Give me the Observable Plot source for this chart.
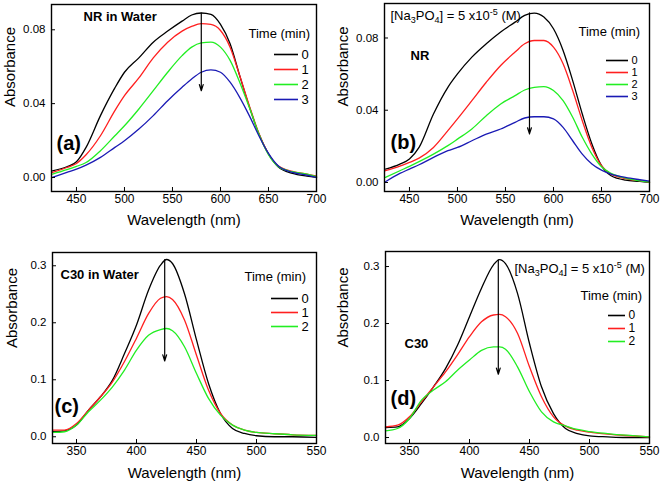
<!DOCTYPE html>
<html><head><meta charset="utf-8">
<script src="https://cdn.jsdelivr.net/npm/d3@7"></script>
<script src="https://cdn.jsdelivr.net/npm/@observablehq/plot@0.6"></script>
<style>
body{margin:0;background:#fff;font-family:"Liberation Sans",Arial,sans-serif}
#root{position:relative;width:661px;height:486px;overflow:hidden}
#root svg{position:absolute;max-width:none}
</style></head><body><div id="root"></div>
<script>
// ---------- data ----------
const times = ["0", "1", "2", "3"];
const nrWavelength = [425,440,450,460,475,490,500,515,530,545,560,570,580,590,600,610,620,630,640,650,660,675,690,700];
const nrWater0 = [0.0036,0.0058,0.0085,0.0163,0.0335,0.0485,0.0570,0.0648,0.0733,0.0793,0.0847,0.0880,0.0891,0.0883,0.0829,0.0724,0.0552,0.0384,0.0235,0.0127,0.0058,0.0022,0.0007,0.0000];
const nrWater1 = [0.0027,0.0054,0.0076,0.0123,0.0226,0.0362,0.0443,0.0539,0.0648,0.0733,0.0793,0.0818,0.0833,0.0829,0.0796,0.0706,0.0552,0.0389,0.0239,0.0127,0.0063,0.0033,0.0018,0.0007];
const nrWater2 = [0.0018,0.0042,0.0060,0.0081,0.0145,0.0226,0.0280,0.0371,0.0470,0.0570,0.0660,0.0706,0.0729,0.0733,0.0706,0.0634,0.0516,0.0380,0.0235,0.0123,0.0060,0.0031,0.0018,0.0005];
const nrWater3 = [0.0000,0.0027,0.0045,0.0067,0.0109,0.0163,0.0199,0.0262,0.0335,0.0416,0.0489,0.0534,0.0570,0.0583,0.0570,0.0516,0.0434,0.0335,0.0226,0.0130,0.0063,0.0027,0.0013,0.0000];
const nrPhos0 = [0.0074,0.0102,0.0130,0.0194,0.0379,0.0527,0.0601,0.0694,0.0768,0.0833,0.0888,0.0925,0.0938,0.0916,0.0851,0.0731,0.0564,0.0379,0.0213,0.0093,0.0037,0.0013,0.0006,0.0000];
const nrPhos1 = [0.0065,0.0090,0.0111,0.0135,0.0194,0.0287,0.0352,0.0453,0.0555,0.0648,0.0722,0.0768,0.0786,0.0786,0.0749,0.0657,0.0509,0.0342,0.0194,0.0093,0.0046,0.0022,0.0009,0.0002];
const nrPhos2 = [0.0028,0.0065,0.0089,0.0115,0.0157,0.0204,0.0240,0.0296,0.0370,0.0435,0.0481,0.0512,0.0527,0.0531,0.0509,0.0453,0.0361,0.0250,0.0157,0.0087,0.0050,0.0024,0.0009,0.0002];
const nrPhos3 = [0.0004,0.0050,0.0074,0.0098,0.0139,0.0176,0.0194,0.0231,0.0268,0.0296,0.0333,0.0357,0.0364,0.0364,0.0352,0.0305,0.0231,0.0157,0.0102,0.0068,0.0046,0.0028,0.0015,0.0007];

const c30Wavelength = [330,340,350,360,370,380,390,400,410,420,425,430,440,450,460,470,480,490,500,515,530,550];
const c30Water0 = [0.0088,0.0105,0.0205,0.0468,0.0702,0.0994,0.146,0.196,0.257,0.301,0.311,0.304,0.251,0.170,0.0936,0.0409,0.0146,0.0058,0.0018,0.0,0.0,-0.001];
const c30Water1 = [0.0117,0.0117,0.0234,0.0468,0.0702,0.0965,0.132,0.173,0.216,0.243,0.246,0.241,0.205,0.143,0.0819,0.0409,0.0205,0.0117,0.0076,0.0053,0.0035,0.0023];
const c30Water2 = [0.0076,0.0088,0.0205,0.0439,0.0643,0.0877,0.117,0.152,0.178,0.188,0.190,0.186,0.158,0.111,0.0673,0.038,0.0205,0.0117,0.0076,0.0053,0.0035,0.0023];
const c30Phos0 = [0.0176,0.0187,0.0334,0.0598,0.089,0.121,0.162,0.212,0.262,0.303,0.312,0.305,0.253,0.165,0.089,0.042,0.0158,0.007,0.003,0.0012,0,0];
const c30Phos1 = [0.0187,0.0217,0.0363,0.0627,0.089,0.115,0.145,0.177,0.203,0.215,0.216,0.212,0.183,0.124,0.0715,0.0363,0.0199,0.0129,0.0094,0.0059,0.0035,0.0012];
const c30Phos2 = [0.0117,0.0158,0.0334,0.0656,0.0832,0.0978,0.118,0.136,0.153,0.159,0.159,0.155,0.124,0.0803,0.0451,0.0275,0.0205,0.0141,0.0105,0.007,0.0041,0.0012];

// arrows: [wavelength, from absorbance, to absorbance]
const arrowA = [580, 0.0891, 0.047];
const arrowB = [575, 0.0939, 0.0269];
const arrowC = [423.5, 0.311, 0.133];
const arrowD = [424, 0.3116, 0.111];

const nrTicksX = [450, 500, 550, 600, 650, 700];
const nrTicksY = [0, 0.04, 0.08];
const c30TicksX = [350, 400, 450, 500, 550];
const c30TicksY = [0, 0.1, 0.2, 0.3];

const xLabel = "Wavelength (nm)";
const yLabel = "Absorbance";
const legendTitle = "Time (min)";
const saltLabel = "[Na3PO4] = 5 x10-5 (M)";

// ---------- styles ----------
const colors = ["#000000", "#ff1f1f", "#22ee22", "#1a1ab4"];
const FONT = "'Liberation Sans', Arial, sans-serif";

function rows(wl, series) {
  return series.flatMap((vals, i) => wl.map((w, j) => ({wl: w, a: vals[j], t: times[i]})));
}

function panel(cfg) {
  const data = rows(cfg.wl, cfg.series);
  const n = cfg.series.length;
  const arrow = [{x: cfg.arrow[0], y1: cfg.arrow[1], y2: cfg.arrow[2]}];
  const marks = [
    Plot.line(data, {x: "wl", y: "a", z: "t", stroke: "t", strokeWidth: 1.3, curve: "monotone-x"}),
    Plot.arrow(arrow, {x1: "x", y1: "y1", x2: "x", y2: "y2", stroke: "black", strokeWidth: 1.2, headLength: 8, headAngle: 35}),
    Plot.axisX({ticks: cfg.xTicks, tickSize: -4, tickPadding: 7, fontSize: 12, label: null, tickFormat: d3.format("d")}),
    Plot.axisY({ticks: cfg.yTicks, tickSize: -4, tickPadding: 10, fontSize: 11.5, label: null, tickFormat: d3.format(cfg.yFmt)}),
    Plot.frame({stroke: "black", strokeWidth: 1.4}),
    Plot.text([xLabel], {frameAnchor: "bottom", dy: cfg.xLabelDy, fontSize: 15, lineAnchor: "middle"}),
    Plot.text([yLabel], {frameAnchor: "left", dx: cfg.yLabelDx, dy: cfg.yLabelDy, rotate: -90, fontSize: 15, lineAnchor: "middle"}),
    ...cfg.texts.map(t => Plot.text([t.text], {frameAnchor: "top-left", dx: t.dx, dy: t.dy, textAnchor: "start", lineAnchor: "middle", fontSize: t.size, fontWeight: t.bold ? "bold" : "normal"}))
  ];
  const svg = Plot.plot({
    width: cfg.width, height: cfg.height,
    marginLeft: cfg.m[0], marginRight: cfg.m[1], marginTop: cfg.m[2], marginBottom: cfg.m[3],
    x: {domain: cfg.xDomain},
    y: {domain: cfg.yDomain},
    color: {domain: times.slice(0, n), range: colors.slice(0, n)},
    style: {fontFamily: FONT, color: "black", background: "transparent", overflow: "visible"},
    marks
  });
  svg.style.left = cfg.left + "px";
  svg.style.top = cfg.top + "px";
  fixSalt(svg);
  return svg;
}

function fixSalt(svg) {
  svg.querySelectorAll("text").forEach(t => {
    if (t.textContent === saltLabel) {
      t.textContent = "";
      const parts = [["[Na", 0, null], ["3", 3, 9], ["PO", -3, null], ["4", 3, 9], ["] = 5 x10", -3, null], ["-5", -5, 9], [" (M)", 5, null]];
      for (const [s, dy, fs] of parts) {
        const ts = document.createElementNS("http://www.w3.org/2000/svg", "tspan");
        ts.textContent = s;
        if (dy) ts.setAttribute("dy", dy);
        if (fs) ts.setAttribute("font-size", fs);
        t.appendChild(ts);
      }
    }
  });
}

function legend(cfg) {
  const n = cfg.n;
  const labels = times.slice(0, n);
  const left = cfg.titleX - 4, top = cfg.titleY - 10;
  const w = cfg.x2 + 22 - left, h = cfg.y2 + 10 - top;
  const svg = Plot.plot({
    width: w, height: h,
    marginLeft: cfg.x1 - left, marginRight: left + w - cfg.x2, marginTop: cfg.y1 - top, marginBottom: top + h - cfg.y2,
    x: {domain: [0, 1], axis: null},
    y: {type: "point", domain: labels, padding: 0, axis: null},
    color: {domain: labels, range: colors.slice(0, n)},
    style: {fontFamily: FONT, color: "black", background: "transparent", overflow: "visible"},
    marks: [
      Plot.ruleY(labels, {y: d => d, x1: 0, x2: 1, stroke: d => d, strokeWidth: 1.6}),
      Plot.text(labels, {y: d => d, x: 1, text: d => d, dx: 3, textAnchor: "start", fontSize: cfg.fs}),
      Plot.text([legendTitle], {frameAnchor: "top-left", dx: cfg.titleX - cfg.x1, dy: cfg.titleY - cfg.y1, textAnchor: "start", lineAnchor: "middle", fontSize: 13})
    ]
  });
  svg.style.left = left + "px";
  svg.style.top = top + "px";
  return svg;
}

const root = document.getElementById("root");

root.appendChild(panel({
  left: 0, top: 0, width: 330, height: 243, m: [51, 14, 4, 52],
  xDomain: [424, 700], yDomain: [-0.0076, 0.0937], xTicks: nrTicksX, yTicks: nrTicksY, yFmt: ".2f",
  wl: nrWavelength, series: [nrWater0, nrWater1, nrWater2, nrWater3], arrow: arrowA,
  xLabelDy: 29, yLabelDx: -41, yLabelDy: 9,
  texts: [{text: "NR in Water", dx: 32, dy: 12, size: 13, bold: true}, {text: "(a)", dx: 5, dy: 139, size: 20, bold: true}]
}));
root.appendChild(panel({
  left: 330, top: 0, width: 331, height: 243, m: [54, 12, 3, 52],
  xDomain: [424, 700], yDomain: [-0.005, 0.0991], xTicks: nrTicksX, yTicks: nrTicksY, yFmt: ".2f",
  wl: nrWavelength, series: [nrPhos0, nrPhos1, nrPhos2, nrPhos3], arrow: arrowB,
  xLabelDy: 29, yLabelDx: -41, yLabelDy: 9,
  texts: [{text: saltLabel, dx: 6, dy: 12, size: 13}, {text: "NR", dx: 26, dy: 52, size: 13, bold: true}, {text: "(b)", dx: 6, dy: 139, size: 20, bold: true}]
}));
root.appendChild(panel({
  left: 0, top: 243, width: 330, height: 243, m: [52, 14, 9, 43],
  xDomain: [330, 550], yDomain: [-0.0118, 0.3233], xTicks: c30TicksX, yTicks: c30TicksY, yFmt: ".1f",
  wl: c30Wavelength, series: [c30Water0, c30Water1, c30Water2], arrow: arrowC,
  xLabelDy: 30, yLabelDx: -40, yLabelDy: 0,
  texts: [{text: "C30 in Water", dx: 8, dy: 22, size: 13, bold: true}, {text: "(c)", dx: 2, dy: 154, size: 20, bold: true}]
}));
root.appendChild(panel({
  left: 330, top: 243, width: 331, height: 243, m: [55, 12, 8, 43],
  xDomain: [330, 550], yDomain: [-0.0105, 0.3264], xTicks: c30TicksX, yTicks: c30TicksY, yFmt: ".1f",
  wl: c30Wavelength, series: [c30Phos0, c30Phos1, c30Phos2], arrow: arrowD,
  xLabelDy: 30, yLabelDx: -42, yLabelDy: 0,
  texts: [{text: saltLabel, dx: 129, dy: 17, size: 13}, {text: "C30", dx: 19, dy: 92, size: 13, bold: true}, {text: "(d)", dx: 5, dy: 147, size: 20, bold: true}]
}));

root.appendChild(legend({n: 4, fs: 13, titleX: 248, titleY: 33, x1: 274, x2: 298, y1: 53.3, y2: 98.7}));
root.appendChild(legend({n: 4, fs: 11, titleX: 578, titleY: 30.7, x1: 606, x2: 628, y1: 58.3, y2: 96.7}));
root.appendChild(legend({n: 3, fs: 13, titleX: 244, titleY: 276, x1: 271, x2: 298, y1: 297.3, y2: 326.3}));
root.appendChild(legend({n: 3, fs: 12, titleX: 580, titleY: 294.7, x1: 608, x2: 625, y1: 313.7, y2: 340.7}));
</script></body></html>
